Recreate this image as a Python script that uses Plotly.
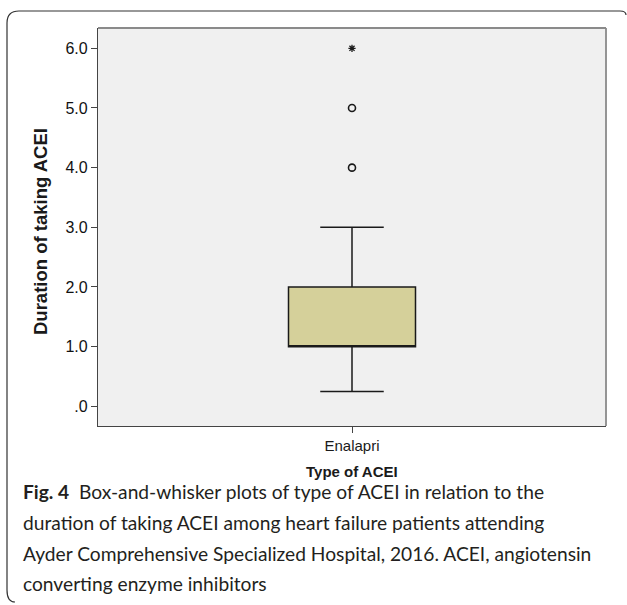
import plotly.graph_objects as go

# ---- data ----
categories = ["Enalapri"]
q1 = [1.0]
median = [1.0]
q3 = [2.0]
lower_whisker = [0.25]
upper_whisker = [3.0]
outlier_values = [4.0, 5.0]
extreme_values = [6.0]
y_tick_vals = [0, 1, 2, 3, 4, 5, 6]
y_tick_text = [".0", "1.0", "2.0", "3.0", "4.0", "5.0", "6.0"]

y_title = "Duration of taking ACEI"
x_title = "Type of ACEI"
caption_lines = [
    "<b>Fig. 4</b>  Box-and-whisker plots of type of ACEI in relation to the",
    "duration of taking ACEI among heart failure patients attending",
    "Ayder Comprehensive Specialized Hospital, 2016. ACEI, angiotensin",
    "converting enzyme inhibitors",
]

W, H = 627, 605
L, R, T, B = 98, 606, 28, 426  # plot area in pixels


def px(x):
    return (x - L) / (R - L)


def py(y):
    return (B - y) / (B - T)


fig = go.Figure()
fig.add_trace(go.Box(
    x=categories, q1=q1, median=median, q3=q3,
    lowerfence=lower_whisker, upperfence=upper_whisker,
    fillcolor="#D5D09A", line=dict(color="#1a1a1a", width=1.5),
    width=0.25, whiskerwidth=0.5, boxpoints=False, showlegend=False,
    hoverinfo="skip",
))
fig.add_trace(go.Scatter(
    x=categories * len(outlier_values), y=outlier_values, mode="markers",
    marker=dict(symbol="circle-open", size=7, color="#1a1a1a", line=dict(width=1.6)),
    showlegend=False,
))
fig.add_trace(go.Scatter(
    x=categories * len(extreme_values), y=extreme_values, mode="markers",
    marker=dict(symbol="asterisk-open", size=6, color="#1a1a1a", line=dict(width=1.3)),
    showlegend=False,
))

fig.update_layout(
    width=W, height=H,
    margin=dict(l=L, r=W - R, t=T, b=H - B),
    paper_bgcolor="white", plot_bgcolor="#F0F0F0",
    font=dict(family="Arial, Liberation Sans, sans-serif", color="#1a1a1a"),
)
fig.update_xaxes(
    type="category", range=[-0.5, 0.5], showgrid=False, zeroline=False,
    showline=True, linecolor="#444", linewidth=1.2, mirror=False,
    ticks="outside", ticklen=6, tickcolor="#444", tickwidth=1,
    tickfont=dict(size=15, color="#1a1a1a"),
)
fig.update_yaxes(
    range=[-0.33, 6.34], tickvals=y_tick_vals, ticktext=y_tick_text,
    showgrid=False, zeroline=False,
    showline=True, linecolor="#444", linewidth=1.2, mirror=False,
    ticks="outside", ticklen=6, tickcolor="#444", tickwidth=1,
    tickfont=dict(size=16, color="#111"),
)

shapes = [
    # top and right borders of plot area (lighter gray)
    dict(type="line", xref="paper", yref="paper", x0=0, x1=1, y0=1, y1=1,
         line=dict(color="#8a8a8a", width=1.8)),
    dict(type="line", xref="paper", yref="paper", x0=1, x1=1, y0=0, y1=1,
         line=dict(color="#8a8a8a", width=1.8)),
]
# outer rounded frame (open at bottom/right)
path = (f"M {px(626)},{py(15)} Q {px(626)},{py(11)} {px(620)},{py(11)} "
        f"L {px(19)},{py(11)} Q {px(7)},{py(11)} {px(7)},{py(23)} "
        f"L {px(7)},{py(590)} Q {px(7)},{py(602)} {px(15)},{py(602)}")
shapes.append(dict(type="path", xref="paper", yref="paper", path=path,
                   line=dict(color="#333", width=1.2)))
fig.update_layout(shapes=shapes)

annotations = [
    dict(text=f"<b>{y_title}</b>", xref="paper", yref="paper", x=px(40), y=py(232),
         textangle=-90, showarrow=False, font=dict(size=18.5, color="#1a1a1a"),
         xanchor="center", yanchor="middle"),
    dict(text=f"<b>{x_title}</b>", xref="paper", yref="paper", x=px(352), y=py(471),
         showarrow=False, font=dict(size=15, color="#1a1a1a"),
         xanchor="center", yanchor="middle"),
]
line_y = [491, 522, 553, 583]
for txt, yy in zip(caption_lines, line_y):
    annotations.append(dict(text=txt, xref="paper", yref="paper", x=px(21), y=py(yy),
                            showarrow=False, xanchor="left", yanchor="middle",
                            font=dict(family="Lato, Open Sans, sans-serif", size=19.2,
                                      color="#231f20")))
fig.update_layout(annotations=annotations)

fig.write_html("out.html")
